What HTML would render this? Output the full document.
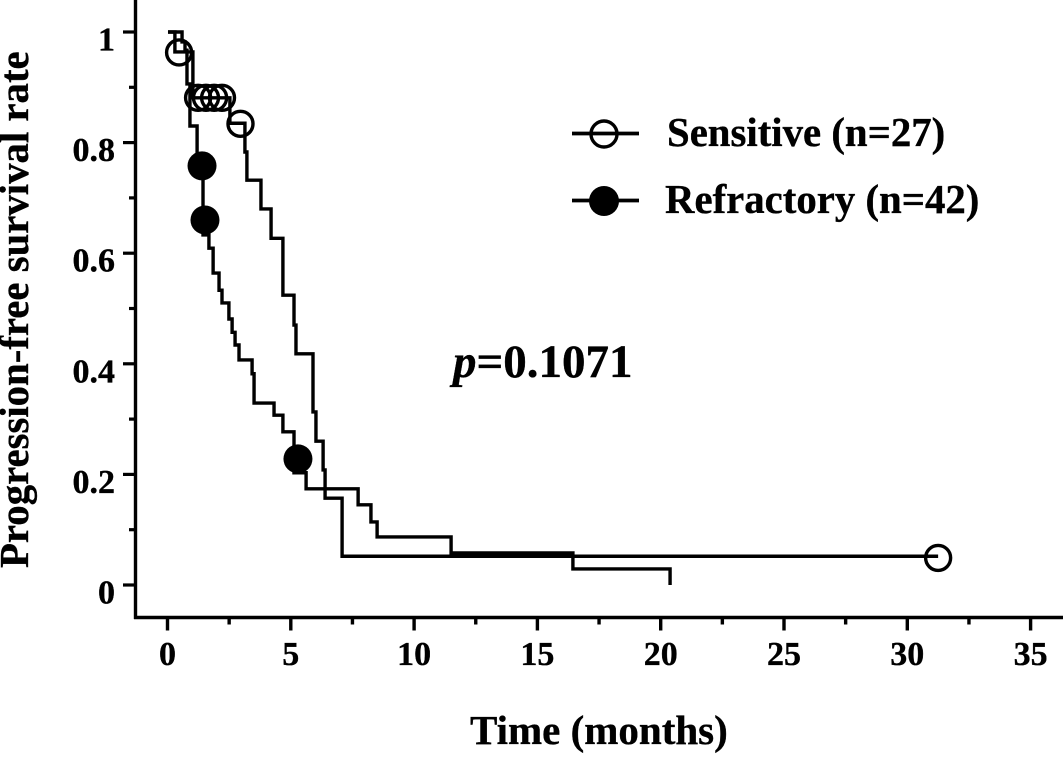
<!DOCTYPE html>
<html lang="en">
<head>
<meta charset="utf-8">
<title>Progression-free survival</title>
<style>
html,body{margin:0;padding:0;background:#fff;}
svg{display:block;}
text{font-family:"Liberation Serif",serif;font-weight:bold;fill:#000;stroke:#000;stroke-width:0.35px;}
</style>
</head>
<body>
<svg id="chart" width="1063" height="769" viewBox="0 0 1063 769" xmlns="http://www.w3.org/2000/svg">
  <rect x="0" y="0" width="1063" height="769" fill="#fff"/>
  <g id="ticks"></g>
  <line x1="135.5" y1="0" x2="135.5" y2="619" stroke="#000" stroke-width="3.4"/>
  <line x1="134" y1="617.5" x2="1063" y2="617.5" stroke="#000" stroke-width="3.4"/>
  <g id="series"></g>
  <text transform="translate(28,568) rotate(-90)" font-size="40.8">Progression-free survival rate</text>
  <text x="470" y="744" font-size="41">Time (months)</text>
  <text x="453" y="377" font-size="47">
    <tspan font-style="italic">p</tspan>=0.1071</text>
  <g>
    <line x1="572" y1="133.5" x2="639" y2="133.5" stroke="#000" stroke-width="3.8"/>
    <circle cx="604" cy="134" r="13" fill="none" stroke="#000" stroke-width="3.4"/>
    <text x="667" y="146" font-size="40.8">Sensitive (n=27)</text>
    <line x1="572" y1="200.5" x2="639" y2="200.5" stroke="#000" stroke-width="3.8"/>
    <circle cx="604" cy="201" r="15" fill="#000"/>
    <text x="665" y="213" font-size="40.8">Refractory (n=42)</text>
  </g>
</svg>
<script>
const xMajorTicks = [0, 5, 10, 15, 20, 25, 30, 35];
const xMinorTicks = [2.5, 7.5, 12.5, 17.5, 22.5, 27.5, 32.5];
const yMajorTicks = [0, 0.2, 0.4, 0.6, 0.8, 1];
const yTickLabels = ['0', '0.2', '0.4', '0.6', '0.8', '1'];
const yMinorTicks = [0.1, 0.3, 0.5, 0.7, 0.9];

const sensitiveTimes = [0.30, 1.03, 2.53, 3.14, 3.22, 3.79, 4.20, 4.68, 5.13, 5.21, 5.90, 6.02, 6.31, 6.39, 7.08];
const sensitiveSurvival = [0.964, 0.881, 0.835, 0.783, 0.732, 0.680, 0.627, 0.524, 0.470, 0.418, 0.313, 0.260, 0.208, 0.157, 0.052];
const sensitiveLastTime = 31.25;
const sensitiveCensorTimes = [0.47, 1.24, 1.56, 1.89, 2.21, 2.96, 31.25];
const sensitiveCensorSurvival = [0.963, 0.881, 0.881, 0.881, 0.881, 0.834, 0.049];

const refractoryTimes = [0.59, 0.71, 0.79, 0.91, 1.20, 1.44, 1.68, 1.85, 2.09, 2.21, 2.49, 2.62, 2.74, 2.90, 3.43, 3.51, 4.32, 4.68, 5.13, 5.62, 7.73, 8.25, 8.50, 11.50, 16.44];
const refractorySurvival = [0.982, 0.967, 0.906, 0.830, 0.759, 0.633, 0.609, 0.564, 0.533, 0.510, 0.481, 0.457, 0.434, 0.407, 0.382, 0.329, 0.307, 0.277, 0.203, 0.174, 0.145, 0.114, 0.087, 0.058, 0.029];
const refractoryLastTime = 20.38;
const refractoryEndSurvival = 0;
const refractoryCensorTimes = [1.40, 1.52, 5.29];
const refractoryCensorSurvival = [0.758, 0.660, 0.228];

const NS = 'http://www.w3.org/2000/svg';
const xScale = t => 167.5 + 24.66 * t;
const yScale = s => 585 - 553 * s;
const tickGroup = document.getElementById('ticks');
const seriesGroup = document.getElementById('series');

function make(tag, parent) {
  const el = document.createElementNS(NS, tag);
  parent.appendChild(el);
  return el;
}
function setLine(el, x1, y1, x2, y2, w) {
  el.setAttribute('x1', x1);
  el.setAttribute('y1', y1);
  el.setAttribute('x2', x2);
  el.setAttribute('y2', y2);
  el.setAttribute('stroke', '#000');
  el.setAttribute('stroke-width', w);
}

xMajorTicks.forEach(v => {
  const tick = make('line', tickGroup);
  
  
  setLine(tick, xScale(v), 617, xScale(v), 630.5, 3.4);
  const label = make('text', tickGroup);
  
  
  label.setAttribute('x', xScale(v));
  label.setAttribute('y', 665);
  label.setAttribute('font-size', 34);
  label.setAttribute('text-anchor', 'middle');
  label.textContent = String(v);
});
xMinorTicks.forEach(v => {
  const tick = make('line', tickGroup);
  
  
  setLine(tick, xScale(v), 617, xScale(v), 624.5, 3.4);
});
yMajorTicks.forEach((v, i) => {
  const tick = make('line', tickGroup);
  
  
  setLine(tick, 123, yScale(v), 135, yScale(v), 3.2);
  const label = make('text', tickGroup);
  
  
  label.setAttribute('x', 115);
  label.setAttribute('y', yScale(v) + 18.5);
  label.setAttribute('font-size', 34);
  label.setAttribute('text-anchor', 'end');
  label.textContent = yTickLabels[i];
});
yMinorTicks.forEach(v => {
  const tick = make('line', tickGroup);
  
  
  setLine(tick, 129, yScale(v), 135, yScale(v), 3.2);
});

function stepPath(times, survival, lastTime) {
  let d = 'M' + xScale(0.02) + ' ' + yScale(1);
  times.forEach((t, i) => {
    d += 'H' + xScale(t) + 'V' + yScale(survival[i]);
  });
  d += 'H' + xScale(lastTime);
  return d;
}

const sensitiveLine = make('path', seriesGroup);


sensitiveLine.setAttribute('d', stepPath(sensitiveTimes, sensitiveSurvival, sensitiveLastTime));
sensitiveLine.setAttribute('fill', 'none');
sensitiveLine.setAttribute('stroke', '#000');
sensitiveLine.setAttribute('stroke-width', 3.4);

const refractoryLine = make('path', seriesGroup);


refractoryLine.setAttribute('d', stepPath(refractoryTimes, refractorySurvival, refractoryLastTime) + 'V' + yScale(refractoryEndSurvival));
refractoryLine.setAttribute('fill', 'none');
refractoryLine.setAttribute('stroke', '#000');
refractoryLine.setAttribute('stroke-width', 3.4);

sensitiveCensorTimes.forEach((t, i) => {
  const c = make('circle', seriesGroup);
  
  
  c.setAttribute('cx', xScale(t));
  c.setAttribute('cy', yScale(sensitiveCensorSurvival[i]));
  c.setAttribute('r', 12.5);
  c.setAttribute('fill', 'none');
  c.setAttribute('stroke', '#000');
  c.setAttribute('stroke-width', 3.4);
});
refractoryCensorTimes.forEach((t, i) => {
  const c = make('circle', seriesGroup);
  
  
  c.setAttribute('cx', xScale(t));
  c.setAttribute('cy', yScale(refractoryCensorSurvival[i]));
  c.setAttribute('r', 14.5);
  c.setAttribute('fill', '#000');
});
</script>
</body>
</html>
